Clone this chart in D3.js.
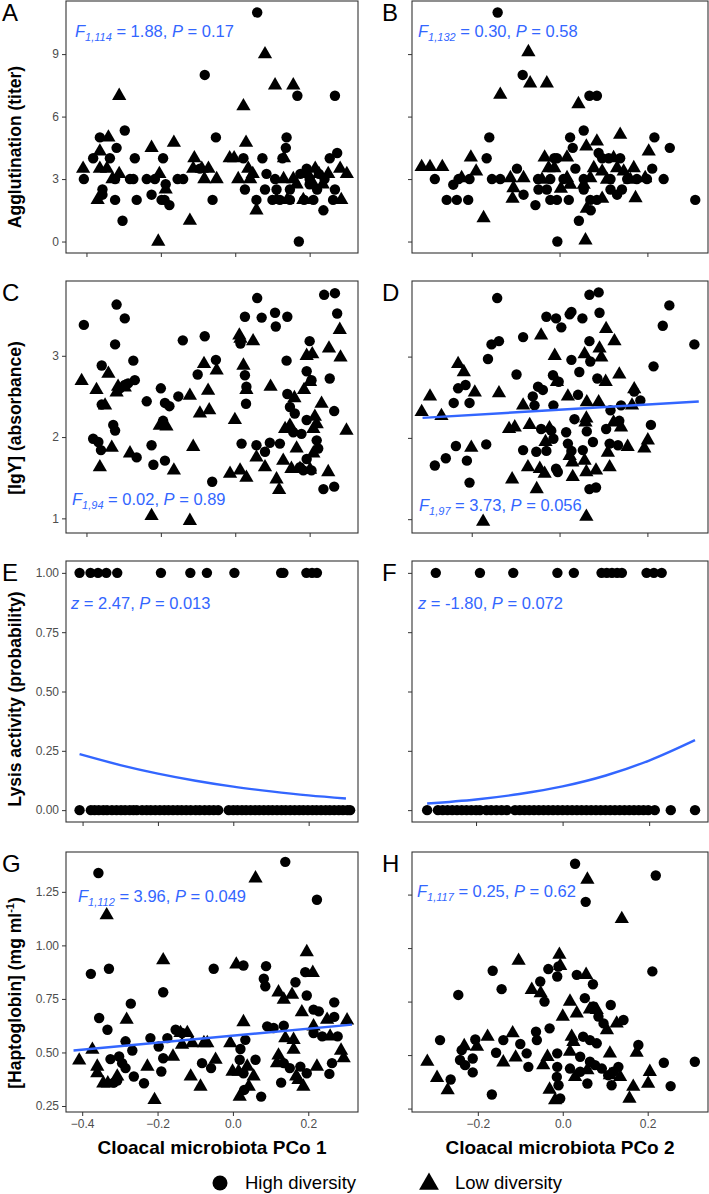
<!DOCTYPE html>
<html>
<head>
<meta charset="utf-8">
<script src="https://cdn.jsdelivr.net/npm/d3@7"></script>
<style>
body { margin: 0; background: #fff; }
svg { display: block; font-family: "Liberation Sans", Arial, Helvetica, sans-serif; }
</style>
</head>
<body>
<div id="chart"></div>
<script>
// ---- data ----
// A: agglutination vs PCo1
var aggPC1High = [[-0.407,3],[-0.382,4],[-0.364,5],[-0.357,2.5],[-0.357,2.25],[-0.337,4],[-0.319,4.5],[-0.323,3],[-0.323,2],[-0.297,5.33],[-0.303,1],[-0.283,3],[-0.274,3],[-0.27,4],[-0.265,2],[-0.238,3],[-0.225,2.25],[-0.216,3],[-0.194,4],[-0.187,2.75],[-0.198,2],[-0.19,2],[-0.177,1.75],[-0.155,3],[-0.14,3],[-0.082,8],[-0.095,3.5],[-0.052,5],[-0.061,2],[0.059,11],[0.022,4],[0.026,2.5],[0.073,4],[0.057,2],[0.08,2.5],[0.084,3.25],[0.107,3],[0.111,2.5],[0.138,5],[0.136,4.5],[0.127,4],[0.12,2],[0.147,2],[0.167,7],[0.147,2.5],[0.171,0],[0.175,3.25],[0.192,3.5],[0.21,2],[0.237,1.5],[0.254,4],[0.268,7],[0.274,4.25],[0.268,2.5],[0.263,2],[0.2,3],[0.22,2.5],[0.185,2],[0.225,3.25],[0.1,2],[0.2,2.75],[0.24,3]];
var aggPC1Low = [[-0.409,3.5],[-0.37,2],[-0.364,4.33],[-0.364,3.5],[-0.341,5],[-0.345,3.5],[-0.312,7],[-0.33,3],[-0.312,3.25],[-0.225,4.5],[-0.204,3.25],[-0.187,2.5],[-0.207,0],[-0.165,4.75],[-0.122,1],[-0.11,4],[-0.113,3.5],[-0.09,3.5],[-0.072,3.5],[-0.083,3],[-0.05,3],[-0.015,4],[-0.003,4],[0.022,6.5],[0.029,4.75],[0.008,3],[0.035,3.5],[0.047,3.25],[0.057,1.5],[0.08,9],[0.107,7.5],[0.156,7.5],[0.131,4],[0.13,3],[0.156,3],[0.165,2.75],[0.183,2],[0.215,3.5],[0.25,3.25],[0.282,3.5],[0.3,3.25],[0.285,2],[0.111,2],[0.14,2],[0.21,2.75],[0.225,3.25],[0.04,3],[0.195,3.25],[0.235,2.75]];

// B: agglutination vs PCo2
var aggPC2High = [[-0.141,11],[-0.284,3],[-0.242,2.73],[-0.257,2],[-0.234,2],[-0.208,2],[-0.23,3],[-0.205,3],[-0.16,5],[-0.166,4],[-0.154,3],[-0.135,3],[-0.084,8],[-0.097,3.5],[-0.082,2.25],[-0.055,1.75],[-0.048,2.5],[-0.029,2.5],[-0.021,2],[-0.006,2],[-0.049,3],[-0.021,3],[-0.005,0],[-0.006,4],[0.021,2],[0.024,5],[0.03,4.5],[0.055,5.33],[0.068,7],[0.085,7],[0.044,1],[0.055,2.5],[0.071,1.5],[0.089,4.25],[0.097,4],[0.112,4],[0.138,4],[0.07,2],[0.085,2],[0.116,2.5],[0.142,2.5],[0.131,2.25],[0.036,3.5],[0.176,3],[0.199,3],[0.216,5],[0.211,3.5],[0.251,4.5],[0.237,3],[0.309,2],[0.009,3],[0.055,3],[0.116,3],[0.154,3],[-0.012,4]];
var aggPC2Low = [[-0.314,3.58],[-0.295,3.58],[-0.267,3.58],[-0.202,4.04],[-0.19,3.37],[-0.223,3.05],[-0.173,1.13],[-0.135,7.05],[-0.112,3.05],[-0.105,2.57],[-0.107,2.06],[-0.082,3.05],[-0.071,9.1],[-0.067,7.6],[-0.029,7.6],[-0.034,4.04],[-0.025,3.53],[-0.04,2.97],[0.017,4.04],[0.003,2.54],[0.024,2.73],[0.043,6.6],[0.061,4.57],[0.085,4.81],[0.059,0.06],[0.078,3.53],[0.097,3.37],[0.062,1.58],[0.097,2.06],[0.138,5.13],[0.123,4.01],[0.131,3.53],[0.146,3.37],[0.169,3.53],[0.173,2.09],[0.203,4.33],[0.195,3.05],[-0.012,3.53],[0.055,2.73],[0.017,3.05],[0.07,3.05],[0.108,2.97],[0.161,2.97]];

// C: IgY vs PCo1
var igyPC1High = [[-0.407,3.38],[-0.319,3.63],[-0.297,3.46],[-0.323,3.14],[-0.274,2.94],[-0.359,2.88],[-0.27,2.7],[-0.297,2.64],[-0.288,2.66],[-0.31,2.6],[-0.359,2.4],[-0.328,2.15],[-0.323,2.08],[-0.382,1.98],[-0.368,1.94],[-0.361,1.84],[-0.265,1.75],[-0.238,2.44],[-0.2,2.6],[-0.189,2.42],[-0.177,2.38],[-0.153,2.5],[-0.225,1.9],[-0.22,1.66],[-0.189,1.71],[-0.194,2.2],[-0.141,3.19],[-0.082,3.24],[-0.101,2.77],[-0.052,2.95],[-0.062,1.45],[0.026,3.48],[0.059,3.71],[0.071,3.47],[0.107,3.53],[0.109,3.36],[0.14,3.48],[0.014,3.15],[0.026,2.76],[0.03,2.62],[0.029,2.41],[0.017,1.92],[0.057,1.9],[0.08,1.82],[0.093,1.93],[0.12,1.92],[0.138,2.94],[0.14,2.53],[0.147,2.37],[0.16,2.29],[0.156,2.06],[0.178,2.04],[0.192,2.21],[0.2,3.18],[0.192,2.81],[0.205,2.7],[0.192,1.73],[0.205,1.59],[0.219,1.96],[0.223,1.86],[0.239,3.75],[0.268,3.77],[0.274,3.52],[0.254,2.72],[0.266,2.32],[0.237,1.36],[0.266,1.39],[0.174,1.63],[0.183,1.59]];
var igyPC1Low = [[-0.413,2.69],[-0.373,2.58],[-0.341,2.78],[-0.315,2.62],[-0.297,2.61],[-0.319,2.55],[-0.35,2.39],[-0.364,1.63],[-0.332,1.87],[-0.283,1.8],[-0.225,1.03],[-0.203,2.14],[-0.185,2.13],[-0.165,1.59],[-0.122,2.51],[-0.113,1.88],[-0.095,2.29],[-0.084,2.9],[-0.073,2.57],[-0.07,2.33],[-0.05,2.82],[-0.122,0.97],[-0.014,1.55],[-0.001,2.21],[0.011,3.25],[0.014,3.21],[0.022,2.88],[0.013,1.59],[0.03,1.5],[0.03,2.58],[0.048,3.18],[0.057,1.75],[0.08,1.63],[0.095,2.62],[0.111,1.48],[0.118,1.35],[0.129,1.71],[0.134,2.1],[0.147,2.14],[0.159,2.48],[0.165,1.86],[0.151,1.61],[0.174,1.61],[0.185,2.58],[0.201,2.68],[0.192,3.0],[0.207,3.02],[0.214,2.25],[0.21,1.8],[0.201,1.6],[0.232,2.41],[0.25,1.57],[0.252,3.09],[0.281,3.32],[0.283,2.98],[0.299,2.08],[0.21,2.1],[0.219,2.16]];

// D: IgY vs PCo2
var igyPC2High = [[-0.142,3.72],[-0.284,1.66],[-0.259,1.75],[-0.236,1.9],[-0.241,2.43],[-0.205,2.43],[-0.231,2.61],[-0.214,2.65],[-0.211,1.72],[-0.205,1.45],[-0.167,1.92],[-0.163,2.97],[-0.155,3.15],[-0.138,3.19],[-0.098,2.78],[-0.083,3.24],[-0.083,1.85],[-0.061,2.51],[-0.057,2.4],[-0.049,2.63],[-0.038,2.59],[-0.015,2.77],[-0.014,2.4],[-0.002,2.69],[-0.03,3.49],[-0.008,3.47],[0.004,3.36],[0.023,3.52],[0.027,3.55],[0.052,3.47],[0.068,3.76],[0.089,3.79],[0.091,3.54],[0.068,3.19],[0.027,2.96],[0.045,2.81],[0.07,2.94],[0.086,2.73],[0.042,2.53],[-0.042,2.11],[-0.019,2.09],[-0.014,1.99],[-0.053,1.83],[-0.03,1.84],[0.015,2.07],[0.034,2.23],[0.019,1.93],[0.027,1.84],[0.053,1.85],[0.062,2.08],[0.076,1.95],[0.068,1.37],[0.083,1.39],[-0.008,1.62],[-0.004,1.58],[0.106,2.11],[0.114,1.93],[0.133,1.91],[0.116,2.34],[0.136,2.21],[0.14,2.4],[0.17,2.57],[0.184,2.46],[0.208,2.16],[0.214,2.88],[0.235,3.38],[0.25,3.63],[0.307,3.15]];
var igyPC2Low = [[-0.314,2.32],[-0.295,2.51],[-0.269,2.27],[-0.231,2.91],[-0.218,2.81],[-0.201,1.88],[-0.193,2.56],[-0.174,0.97],[-0.138,2.55],[-0.115,2.11],[-0.102,2.13],[-0.108,1.49],[-0.083,2.4],[-0.072,1.64],[-0.068,2.16],[-0.052,1.37],[-0.042,3.26],[-0.045,1.62],[-0.034,1.56],[-0.023,2.12],[-0.032,1.95],[-0.011,3.01],[-0.006,2.69],[0.019,2.51],[0.023,1.78],[0.029,1.7],[0.03,1.52],[0.057,3.03],[0.062,2.44],[0.061,2.24],[0.059,2.19],[0.057,1.72],[0.061,1.58],[0.061,1.03],[0.083,1.6],[0.091,3.1],[0.095,2.99],[0.089,2.44],[0.106,3.34],[0.125,3.19],[0.105,2.69],[0.11,1.82],[0.114,1.64],[0.123,2.19],[0.14,2.13],[0.136,2.78],[0.155,1.89],[0.165,2.4],[0.17,2.6],[0.193,1.87],[0.201,1.97]];
var igyPC2Fit = [[-0.312,2.246],[0.317,2.448]];

// E/F: lysis (1 = present, 0 = absent), PCo values
var lysisPC1Pos = [-0.408,-0.379,-0.359,-0.337,-0.308,-0.192,-0.114,-0.07,0.003,0.127,0.133,0.194,0.209,0.222];
var lysisPC1Neg = [-0.408,-0.378,-0.368,-0.357,-0.345,-0.335,-0.322,-0.31,-0.298,-0.287,-0.275,-0.265,-0.256,-0.242,-0.23,-0.219,-0.207,-0.195,-0.183,-0.172,-0.16,-0.148,-0.137,-0.125,-0.113,-0.1,-0.089,-0.076,-0.064,-0.052,-0.04,-0.012,0.0,0.011,0.023,0.034,0.046,0.058,0.069,0.081,0.093,0.104,0.116,0.128,0.139,0.151,0.163,0.175,0.186,0.198,0.21,0.221,0.233,0.245,0.256,0.268,0.28,0.291,0.303,0.31];
var lysisPC1Fit = [[-0.408,0.236],[-0.3,0.19],[-0.2,0.154],[-0.1,0.124],[0,0.099],[0.1,0.079],[0.2,0.062],[0.299,0.049]];
var lysisPC2Pos = [-0.293,-0.191,-0.114,-0.012,0.026,0.09,0.102,0.114,0.126,0.137,0.194,0.211,0.229];
var lysisPC2Neg = [-0.313,-0.288,-0.277,-0.266,-0.255,-0.244,-0.233,-0.222,-0.211,-0.2,-0.191,-0.176,-0.165,-0.153,-0.141,-0.129,-0.11,-0.099,-0.088,-0.077,-0.066,-0.055,-0.044,-0.033,-0.022,-0.011,0.0,0.011,0.022,0.033,0.044,0.055,0.066,0.077,0.088,0.099,0.11,0.121,0.132,0.143,0.154,0.165,0.176,0.187,0.198,0.213,0.25,0.306];
var lysisPC2Fit = [[-0.313,0.028],[-0.2,0.045],[-0.1,0.068],[0,0.1],[0.1,0.146],[0.2,0.209],[0.306,0.295]];

// G: haptoglobin vs PCo1
var haptoPC1High = [[-0.357,1.338],[-0.377,0.867],[-0.329,0.891],[-0.355,0.661],[-0.333,0.606],[-0.271,0.728],[-0.285,0.552],[-0.267,0.509],[-0.325,0.469],[-0.302,0.481],[-0.294,0.45],[-0.285,0.427],[-0.316,0.359],[-0.307,0.369],[-0.263,0.388],[-0.236,0.356],[-0.219,0.567],[-0.197,0.528],[-0.185,0.781],[-0.185,0.473],[-0.19,0.411],[-0.174,0.567],[-0.152,0.606],[-0.135,0.591],[-0.051,0.891],[-0.082,0.45],[-0.058,0.427],[0.02,0.516],[0.033,0.559],[0.018,0.466],[0.028,0.403],[0.03,0.325],[0.06,0.466],[0.075,0.294],[0.028,0.906],[0.088,0.903],[0.082,0.844],[0.086,0.809],[0.091,0.622],[0.108,0.614],[0.139,1.39],[0.166,0.828],[0.196,0.766],[0.192,0.875],[0.223,1.213],[0.214,0.7],[0.228,0.692],[0.237,0.575],[0.269,0.734],[0.269,0.666],[0.278,0.575],[0.256,0.4],[0.263,0.45],[0.135,0.625],[0.135,0.45],[0.151,0.427],[0.128,0.359],[0.179,0.434],[0.196,0.403],[0.214,0.591]];
var haptoPC1Low = [[-0.408,0.463],[-0.373,0.513],[-0.36,0.434],[-0.36,0.403],[-0.344,0.356],[-0.332,0.356],[-0.335,1.141],[-0.307,0.388],[-0.282,0.653],[-0.227,0.434],[-0.208,0.278],[-0.185,0.931],[-0.159,0.481],[-0.139,0.591],[-0.121,0.591],[-0.135,0.536],[-0.108,0.544],[-0.077,0.544],[-0.112,0.388],[-0.086,0.341],[-0.068,0.544],[-0.046,0.466],[-0.007,0.544],[0.009,0.911],[-0.001,0.411],[0.015,0.411],[0.018,0.294],[0.028,0.642],[0.038,0.434],[0.042,0.341],[0.055,0.388],[0.06,1.313],[0.117,0.45],[0.121,0.486],[0.121,0.781],[0.135,0.747],[0.157,0.77],[0.139,0.567],[0.161,0.513],[0.161,0.559],[0.168,0.388],[0.174,0.372],[0.187,0.341],[0.183,0.688],[0.196,0.969],[0.212,0.872],[0.214,0.622],[0.223,0.434],[0.25,0.653],[0.258,0.575],[0.287,0.509],[0.294,0.473],[0.303,0.65]];
var haptoPC1Fit = [[-0.423,0.509],[0.316,0.63]];

// H: haptoglobin vs PCo2
var haptoPC2High = [[0.029,1.394],[0.054,1.216],[0.219,1.339],[0.211,0.891],[-0.165,0.894],[-0.144,0.808],[-0.246,0.781],[-0.289,0.57],[-0.264,0.386],[-0.238,0.523],[-0.242,0.477],[-0.23,0.453],[-0.212,0.484],[-0.212,0.419],[-0.206,0.573],[-0.167,0.316],[-0.157,0.511],[-0.14,0.57],[-0.1,0.552],[-0.085,0.508],[-0.081,0.445],[-0.053,0.844],[-0.043,0.75],[-0.034,0.902],[-0.01,0.914],[-0.013,0.867],[-0.063,0.609],[-0.061,0.57],[-0.031,0.625],[-0.013,0.508],[-0.013,0.445],[-0.014,0.398],[-0.01,0.359],[-0.006,0.297],[0.033,0.875],[0.052,0.766],[0.071,0.831],[0.072,0.727],[0.084,0.68],[0.096,0.648],[0.048,0.586],[0.064,0.57],[0.08,0.555],[0.113,0.734],[0.143,0.664],[0.041,0.492],[0.064,0.469],[0.076,0.453],[0.092,0.437],[0.107,0.406],[0.119,0.422],[0.131,0.445],[0.058,0.367],[0.115,0.359],[0.178,0.547],[0.238,0.464],[0.254,0.355],[0.311,0.469],[0.017,0.437],[0.041,0.422]];
var haptoPC2Low = [[-0.319,0.469],[-0.296,0.394],[-0.271,0.336],[-0.232,0.542],[-0.202,0.539],[-0.177,0.586],[-0.14,0.466],[-0.118,0.602],[-0.111,0.489],[-0.104,0.941],[-0.073,0.805],[-0.052,0.789],[-0.008,0.969],[-0.006,0.917],[-0.046,0.453],[-0.036,0.492],[-0.031,0.339],[-0.018,0.289],[0.0,0.68],[0.017,0.75],[0.033,0.695],[0.055,0.875],[0.058,1.32],[0.064,0.714],[0.021,0.586],[0.025,0.562],[0.017,0.516],[0.029,0.398],[0.058,0.43],[0.111,0.508],[0.111,0.406],[0.139,1.136],[0.157,0.297],[0.174,0.511],[0.166,0.352],[0.201,0.367],[0.205,0.422],[0.135,0.398],[0.08,0.711],[0.104,0.617],[0.127,0.648]];

// ticks & labels
var xTicksPC1 = [-0.4, -0.2, 0, 0.2];
var xTicksPC2 = [-0.2, 0, 0.2];
var aggTicks = [0, 3, 6, 9];
var igyTicks = [1, 2, 3];
var lysisTicks = [0, 0.25, 0.5, 0.75, 1];
var haptoTicks = [0.25, 0.5, 0.75, 1, 1.25];
var panelLetters = ["A", "B", "C", "D", "E", "F", "G", "H"];
var yTitles = ["Agglutination (titer)", "[IgY] (absorbance)", "Lysis activity (probability)", "[Haptoglobin] (mg ml"];
var xTitles = ["Cloacal microbiota PCo 1", "Cloacal microbiota PCo 2"];
var legendLabels = ["High diversity", "Low diversity"];
var statSymbol = ["F", "F", "F", "F", "z", "z", "F", "F"];
var statDf = ["1,114", "1,132", "1,94", "1,97", "", "", "1,112", "1,117"];
var statValue = ["1.88", "0.30", "0.02", "3.73", "2.47", "-1.80", "3.96", "0.25"];
var statP = ["0.17", "0.58", "0.89", "0.056", "0.013", "0.072", "0.049", "0.62"];

// ---- layout ----
var width = 709, height = 1194;
var blue = "#3366FF";
var rows = [
    {top: 1, bottom: 253, title: 147},
    {top: 281, bottom: 533, title: 418},
    {top: 561, bottom: 822, title: 699},
    {top: 852, bottom: 1112, title: 993}
];
var cols = [{left: 66, right: 358}, {left: 412, right: 708}];

var svg = d3.select("#chart").append("svg")
    .attr("width", width)
    .attr("height", height);

function onLine(v) { return function (x) { return [x, v]; }; }

var panels = [
    {high: aggPC1High, low: aggPC1Low, xd: [-0.455, 0.33], yd: [-0.55, 11.55], yt: aggTicks, yf: d3.format("d"), sx: 75, sy: 37},
    {high: aggPC2High, low: aggPC2Low, xd: [-0.336, 0.338], yd: [-0.55, 11.55], yt: aggTicks, sx: 418, sy: 37},
    {high: igyPC1High, low: igyPC1Low, xd: [-0.455, 0.33], yd: [0.82, 3.92], yt: igyTicks, yf: d3.format("d"), sx: 72, sy: 505},
    {high: igyPC2High, low: igyPC2Low, xd: [-0.336, 0.338], yd: [0.83, 3.93], yt: igyTicks, fit: igyPC2Fit, sx: 419, sy: 511},
    {high: lysisPC1Pos.map(onLine(1)).concat(lysisPC1Neg.map(onLine(0))), low: [], xd: [-0.444, 0.331], yd: [-0.05, 1.05], yt: lysisTicks, yf: d3.format(".2f"), fit: lysisPC1Fit, sx: 71, sy: 609},
    {high: lysisPC2Pos.map(onLine(1)).concat(lysisPC2Neg.map(onLine(0))), low: [], xd: [-0.348, 0.336], yd: [-0.05, 1.05], yt: lysisTicks, fit: lysisPC2Fit, sx: 418, sy: 609},
    {high: haptoPC1High, low: haptoPC1Low, xd: [-0.443, 0.332], yd: [0.222, 1.436], yt: haptoTicks, yf: d3.format(".2f"), fit: haptoPC1Fit, sx: 78, sy: 902},
    {high: haptoPC2High, low: haptoPC2Low, xd: [-0.355, 0.342], yd: [0.234, 1.449], yt: haptoTicks, sx: 417, sy: 897}
];

var triangle = d3.symbol().type(d3.symbolTriangle).size(88);

panels.forEach(function (p, i) {
    var c = cols[i % 2], r = rows[Math.floor(i / 2)];
    var isBottom = i >= 6;
    var x = d3.scaleLinear().domain(p.xd).range([c.left, c.right]);
    var y = d3.scaleLinear().domain(p.yd).range([r.bottom, r.top]);
    var g = svg.append("g");

    // x axis (labels only on bottom row)
    var xa = d3.axisBottom(x)
        .tickValues(i % 2 === 0 ? xTicksPC1 : xTicksPC2)
        .tickSize(4).tickPadding(3)
        .tickFormat(isBottom ? d3.format(".1f") : "");
    g.append("g").attr("transform", "translate(0," + r.bottom + ")").call(xa);

    var ya = d3.axisLeft(y)
        .tickValues(p.yt)
        .tickSize(4).tickPadding(3)
        .tickFormat(p.yf ? p.yf : "");
    g.append("g").attr("transform", "translate(" + c.left + ",0)").call(ya);

    g.selectAll(".domain").remove();
    g.selectAll(".tick line").attr("stroke", "#333").attr("stroke-width", 1);
    g.selectAll(".tick text").attr("fill", "#4d4d4d").style("font-size", "12px");

    g.selectAll("circle.hi")
        .data(p.high)
        .enter().append("circle")
        .attr("class", "hi")
        .attr("cx", function (d) { return x(d[0]); })
        .attr("cy", function (d) { return y(d[1]); })
        .attr("r", 5.2)
        .attr("fill", "#000");

    g.selectAll("path.lo")
        .data(p.low)
        .enter().append("path")
        .attr("class", "lo")
        .attr("d", triangle)
        .attr("transform", function (d) { return "translate(" + x(d[0]) + "," + y(d[1]) + ")"; })
        .attr("fill", "#000");

    if (p.fit) {
        var line = d3.line()
            .x(function (d) { return x(d[0]); })
            .y(function (d) { return y(d[1]); })
            .curve(d3.curveMonotoneX);
        g.append("path")
            .datum(p.fit)
            .attr("d", line)
            .attr("fill", "none")
            .attr("stroke", blue)
            .attr("stroke-width", 2.4);
    }

    // panel border
    g.append("rect")
        .attr("x", c.left).attr("y", r.top)
        .attr("width", c.right - c.left).attr("height", r.bottom - r.top)
        .attr("fill", "none")
        .attr("stroke", "#333")
        .attr("stroke-width", 1.1);

    // stat annotation
    var t = g.append("text")
        .attr("x", p.sx).attr("y", p.sy)
        .attr("fill", blue)
        .style("font-size", "16.5px");
    t.append("tspan").style("font-style", "italic").text(statSymbol[i]);
    if (statDf[i]) {
        t.append("tspan").style("font-style", "italic").style("font-size", "11px")
            .attr("dy", 4).text(statDf[i]);
        t.append("tspan").attr("dy", -4).text(" = " + statValue[i] + ", ");
    } else {
        t.append("tspan").text(" = " + statValue[i] + ", ");
    }
    t.append("tspan").style("font-style", "italic").text("P");
    t.append("tspan").text(" = " + statP[i]);

    // panel letter
    svg.append("text")
        .attr("x", i % 2 === 0 ? 2 : 382)
        .attr("y", r.top + 20)
        .style("font-size", "24px")
        .text(panelLetters[i]);
});

// y titles (sit a little below the panel centre, as in the figure)
rows.forEach(function (r, k) {
    var t = svg.append("text")
        .attr("transform", "translate(21," + r.title + ") rotate(-90)")
        .attr("text-anchor", "middle")
        .style("font-size", "17.5px")
        .style("font-weight", "bold")
        .text(yTitles[k]);
    if (k === 3) {
        t.append("tspan").style("font-size", "11px").attr("dy", -7).text("-1");
        t.append("tspan").attr("dy", 7).text(")");
    }
});

// x titles
cols.forEach(function (c, k) {
    svg.append("text")
        .attr("x", (c.left + c.right) / 2)
        .attr("y", 1154)
        .attr("text-anchor", "middle")
        .style("font-size", "19px")
        .style("font-weight", "bold")
        .text(xTitles[k]);
});

// legend
var lg = svg.append("g");
lg.append("circle").attr("cx", 220).attr("cy", 1183).attr("r", 7.5).attr("fill", "#000");
lg.append("path").attr("d", d3.symbol().type(d3.symbolTriangle).size(170))
    .attr("transform", "translate(429,1184)").attr("fill", "#000");
lg.selectAll("text.lab")
    .data(legendLabels)
    .enter().append("text")
    .attr("class", "lab")
    .attr("x", function (d, i) { return i === 0 ? 245 : 455; })
    .attr("y", 1189)
    .style("font-size", "18.5px")
    .text(function (d) { return d; });
</script>
</body>
</html>
